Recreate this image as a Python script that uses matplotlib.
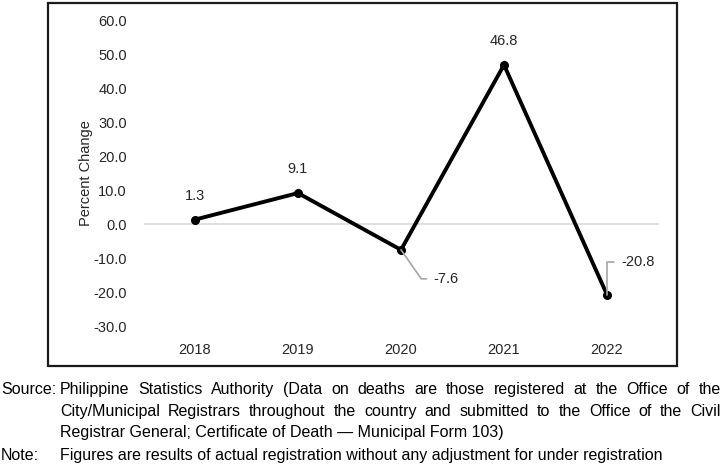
import matplotlib
matplotlib.use("Agg")
import matplotlib.pyplot as plt
from matplotlib.patches import Rectangle

# data
years = ["2018", "2019", "2020", "2021", "2022"]
pct_change = [1.3, 9.1, -7.6, 46.8, -20.8]
y_ticks = [-30, -20, -10, 0, 10, 20, 30, 40, 50, 60]

source_lines = [
    "Philippine Statistics Authority (Data on deaths are those registered at the Office of the",
    "City/Municipal Registrars throughout the country and submitted to the Office of the Civil",
    "Registrar General; Certificate of Death \u2014 Municipal Form 103)",
]
note_line = "Figures are results of actual registration without any adjustment for under registration"

W, H = 724, 469
fig = plt.figure(figsize=(W / 100, H / 100), dpi=100)
plt.rcParams["font.family"] = ["Liberation Sans", "DejaVu Sans"]
narrow = ["Liberation Sans Narrow", "Liberation Sans", "DejaVu Sans"]

# chart frame
fig.patches.append(Rectangle((48 / W, 1 - 366 / H), (677 - 48) / W, 363 / H,
                             transform=fig.transFigure, fill=False,
                             edgecolor="#1a1a1a", linewidth=1.6))

ax = fig.add_axes([143.5 / W, 1 - 326 / H, 515 / W, 306 / H])
x = list(range(len(years)))
ax.axhline(0, color="#d9d9d9", linewidth=1.2, zorder=1)
ax.plot(x, pct_change, color="black", linewidth=2.8, marker="o",
        markersize=5.5, solid_joinstyle="miter", zorder=3)
ax.set_xlim(-0.5, len(years) - 0.5)
ax.set_ylim(-30, 60)
ax.set_yticks(y_ticks)
ax.set_yticklabels([f"{v:.1f}" for v in y_ticks])
ax.set_xticks(x)
ax.set_xticklabels(years)
ax.tick_params(length=0, labelsize=10.5, colors="#262626")
ax.tick_params(axis="y", pad=12)
ax.tick_params(axis="x", pad=12)
for s in ax.spines.values():
    s.set_visible(False)
ax.set_ylabel("Percent Change", fontsize=10.5, color="#262626", labelpad=0)

# data labels
lab_kw = dict(fontsize=10.5, color="#262626", ha="center", va="center")
for i in (0, 1, 3):
    ax.annotate(f"{pct_change[i]:.1f}", (x[i], pct_change[i]), xytext=(0, 17),
                textcoords="offset points", **lab_kw)
# leader-line labels
ax.annotate(f"{pct_change[2]:.1f}", (x[2], pct_change[2]), xytext=(45, -29),
            textcoords="offset pixels", fontsize=10.5, color="#262626",
            ha="center", va="center",
            arrowprops=dict(arrowstyle="-", color="#a6a6a6", lw=1.2,
                            shrinkA=3, shrinkB=0,
                            connectionstyle="angle,angleA=0,angleB=-55,rad=0",
                            relpos=(0, 0.5)))
ax.annotate(f"{pct_change[4]:.1f}", (x[4], pct_change[4]), xytext=(31, 33),
            textcoords="offset pixels", fontsize=10.5, color="#262626",
            ha="center", va="center",
            arrowprops=dict(arrowstyle="-", color="#a6a6a6", lw=1.2,
                            shrinkA=3, shrinkB=0,
                            connectionstyle="angle,angleA=0,angleB=90,rad=0",
                            relpos=(0, 0.5)))

# footer text, justified like the original
fs = 11.5
x0, x1 = 60, 721
line_y = [389, 411, 433, 455]
renderer = fig.canvas.get_renderer()


def fy(py):
    return 1 - py / H


fig.text(1 / W, fy(line_y[0]), "Source:", fontsize=fs, family=narrow, va="center")
fig.text(1 / W, fy(line_y[3]), "Note:", fontsize=fs, family=narrow, va="center")

for i, line in enumerate(source_lines):
    if i < 2:
        words = line.split(" ")
        texts = [fig.text(0, fy(line_y[i]), w, fontsize=fs, family=narrow, va="center")
                 for w in words]
        widths = [t.get_window_extent(renderer).width for t in texts]
        gap = ((x1 - x0) - sum(widths)) / (len(words) - 1)
        pos = x0
        for t, w in zip(texts, widths):
            t.set_x(pos / W)
            pos += w + gap
    else:
        fig.text(x0 / W, fy(line_y[i]), line, fontsize=fs, family=narrow, va="center")

fig.text(x0 / W, fy(line_y[3]), note_line, fontsize=fs, family=narrow, va="center")

fig.savefig("out.png", dpi=100)
